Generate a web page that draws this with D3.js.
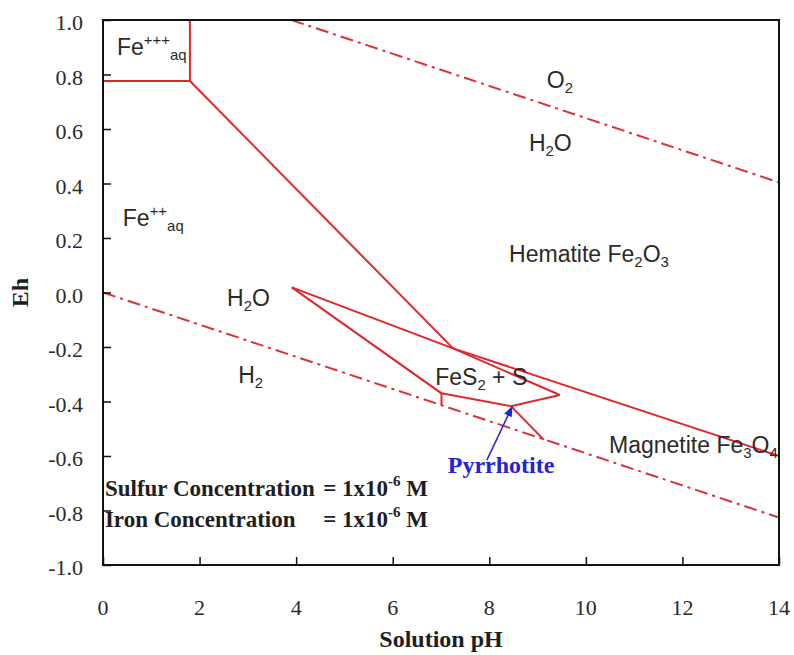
<!DOCTYPE html>
<html>
<head>
<meta charset="utf-8">
<script src="https://cdn.jsdelivr.net/npm/d3@7"></script>
<style>
  body { margin: 0; background: #fff; }
</style>
</head>
<body>
<div id="chart"></div>
<script>
const layout = {
    width: 794,
    height: 655,
    marginLeft: 103,
    marginTop: 20,
    marginRight: 15,
    marginBottom: 90
};

// axis ticks
const phTicks = [0, 2, 4, 6, 8, 10, 12, 14];
const ehTicks = [-1.0, -0.8, -0.6, -0.4, -0.2, 0.0, 0.2, 0.4, 0.6, 0.8, 1.0];

// stability field boundaries [pH, Eh]
const fe3Boundary = [[0, 0.776], [1.8, 0.776], [1.8, 1.0]];
const fe2Hematite = [[1.8, 0.776], [7.25, -0.205]];
const pyriteUpper = [[3.91, 0.019], [7.25, -0.205], [9.46, -0.376]];
const pyriteLower = [[3.91, 0.019], [7.01, -0.370], [7.01, -0.414]];
const pyriteBottom = [[7.01, -0.370], [8.45, -0.417], [9.46, -0.376]];
const pyrrhotiteEdge = [[8.45, -0.417], [9.13, -0.541]];
const magnetiteEdge = [[7.25, -0.205], [14, -0.600]];

// water stability limits
const o2Line = [[3.9, 1.0], [14, 0.404]];
const h2Line = [[0, 0.0], [14, -0.826]];

// field labels, anchored at [pH, Eh]
const fieldLabels = [
    { at: [0.29, 0.872], parts: [["Fe", "n"], ["+++", "sup"], ["aq", "sub"]] },
    { at: [0.41, 0.244], parts: [["Fe", "n"], ["++", "sup"], ["aq", "sub"]] },
    { at: [2.57, -0.050], parts: [["H", "n"], ["2", "sub"], ["O", "n"]] },
    { at: [2.80, -0.332], parts: [["H", "n"], ["2", "sub"]] },
    { at: [9.19, 0.750], parts: [["O", "n"], ["2", "sub"]] },
    { at: [8.82, 0.519], parts: [["H", "n"], ["2", "sub"], ["O", "n"]] },
    { at: [8.41, 0.112], parts: [["Hematite Fe", "n"], ["2", "sub"], ["O", "n"], ["3", "sub"]] },
    { at: [6.88, -0.339], parts: [["FeS", "n"], ["2", "sub"], [" + S", "n"]] },
    { at: [10.48, -0.589], parts: [["Magnetite Fe", "n"], ["3", "sub"], ["O", "n"], ["4", "sub"]] }
];

const noteNames = ["Sulfur Concentration", "Iron Concentration"];
const noteValues = ["1x10", "1x10"];
const noteRows = [-0.747, -0.861];

const arrowFrom = [7.95, -0.615];
const arrowTo = [8.47, -0.420];

const chartW = layout.width - layout.marginLeft - layout.marginRight;
const chartH = layout.height - layout.marginTop - layout.marginBottom;

let x = d3.scaleLinear().domain([0, 14]).range([layout.marginLeft, layout.marginLeft + chartW]);
let y = d3.scaleLinear().domain([-1, 1]).range([layout.marginTop + chartH, layout.marginTop]);

let svg = d3.select("#chart").append("svg")
    .attr("width", layout.width)
    .attr("height", layout.height)
    .attr("viewBox", [0, 0, layout.width, layout.height].join(" "));

svg.append("defs").append("clipPath").attr("id", "plot-clip")
    .append("rect")
    .attr("x", x(0)).attr("y", y(1))
    .attr("width", x(14) - x(0)).attr("height", y(-1) - y(1));

svg.select("defs").append("marker")
    .attr("id", "arrow-head")
    .attr("viewBox", "0 0 10 10")
    .attr("refX", 9).attr("refY", 5)
    .attr("markerWidth", 7).attr("markerHeight", 7)
    .attr("orient", "auto")
    .append("path")
    .attr("d", "M0,1 L10,5 L0,9 Z")
    .attr("fill", "#2323d8");

let line = d3.line().x(d => x(d[0])).y(d => y(d[1]));
let plot = svg.append("g").attr("clip-path", "url(#plot-clip)");

// dash-dot water lines
[o2Line, h2Line].forEach(pts => {
    plot.append("path")
        .datum(pts)
        .attr("d", line)
        .attr("fill", "none")
        .attr("stroke", "#d8323a")
        .attr("stroke-width", 2)
        .attr("stroke-dasharray", "13,5,3,5");
});

// solid boundaries
[fe3Boundary, fe2Hematite, pyriteUpper, pyriteLower, pyriteBottom, pyrrhotiteEdge, magnetiteEdge].forEach(pts => {
    plot.append("path")
        .datum(pts)
        .attr("d", line)
        .attr("fill", "none")
        .attr("stroke", "#e3262c")
        .attr("stroke-width", 2)
        .attr("stroke-linejoin", "miter");
});

function richText(g, px, py, parts, size) {
    let t = g.append("text")
        .attr("x", px).attr("y", py)
        .attr("font-family", "Liberation Sans, Arial, sans-serif")
        .attr("font-size", size)
        .attr("fill", "#2a2a2a");
    let cur = 0;
    parts.forEach(([s, k]) => {
        let off = k === "sub" ? size * 0.22 : k === "sup" ? -size * 0.42 : 0;
        t.append("tspan")
            .attr("dy", off - cur)
            .attr("font-size", k === "n" ? size : size * 0.65)
            .text(s);
        cur = off;
    });
    return t;
}

let labels = svg.append("g");
fieldLabels.forEach(d => richText(labels, x(d.at[0]), y(d.at[1]), d.parts, 23));

// concentration notes
noteNames.forEach((name, i) => {
    let g = svg.append("g")
        .attr("font-family", "Liberation Serif, Times New Roman, serif")
        .attr("font-weight", "bold")
        .attr("font-size", 23)
        .attr("fill", "#1e1e1e");
    g.append("text").attr("x", x(0.04)).attr("y", y(noteRows[i])).text(name);
    let v = g.append("text").attr("x", x(4.56)).attr("y", y(noteRows[i]));
    v.append("tspan").text("= " + noteValues[i]);
    v.append("tspan").attr("dy", -10).attr("font-size", 15).text("-6");
    v.append("tspan").attr("dy", 10).text(" M");
});

// pyrrhotite callout
svg.append("line")
    .attr("x1", x(arrowFrom[0])).attr("y1", y(arrowFrom[1]))
    .attr("x2", x(arrowTo[0])).attr("y2", y(arrowTo[1]))
    .attr("stroke", "#2323d8")
    .attr("stroke-width", 1.5)
    .attr("marker-end", "url(#arrow-head)");

svg.append("text")
    .attr("x", x(7.14)).attr("y", y(-0.662))
    .attr("font-family", "Liberation Serif, Times New Roman, serif")
    .attr("font-weight", "bold")
    .attr("font-size", 24)
    .attr("fill", "#2323d8")
    .text("Pyrrhotite");

// axes with inward ticks
let xAxis = svg.append("g")
    .attr("transform", `translate(0,${y(-1)})`)
    .call(d3.axisTop(x).tickValues(phTicks).tickSize(8).tickFormat(""));
let yAxis = svg.append("g")
    .attr("transform", `translate(${x(0)},0)`)
    .call(d3.axisRight(y).tickValues(ehTicks).tickSize(8).tickFormat(""));
[xAxis, yAxis].forEach(a => {
    a.select(".domain").remove();
    a.selectAll("line").attr("stroke", "#111").attr("stroke-width", 1.5);
});

// frame
svg.append("rect")
    .attr("x", x(0)).attr("y", y(1))
    .attr("width", x(14) - x(0)).attr("height", y(-1) - y(1))
    .attr("fill", "none")
    .attr("stroke", "#111")
    .attr("stroke-width", 2);

// tick labels
svg.append("g").selectAll("text").data(phTicks).join("text")
    .attr("x", d => x(d))
    .attr("y", y(-1) + 50)
    .attr("text-anchor", "middle")
    .attr("font-family", "Liberation Serif, Times New Roman, serif")
    .attr("font-size", 22)
    .attr("fill", "#2a2a2a")
    .text(d => d);

svg.append("g").selectAll("text").data(ehTicks).join("text")
    .attr("x", x(0) - 20)
    .attr("y", d => y(d) + 10)
    .attr("text-anchor", "end")
    .attr("font-family", "Liberation Serif, Times New Roman, serif")
    .attr("font-size", 22)
    .attr("fill", "#2a2a2a")
    .text(d => d.toFixed(1));

// axis titles
svg.append("text")
    .attr("x", x(7))
    .attr("y", 647)
    .attr("text-anchor", "middle")
    .attr("font-family", "Liberation Serif, Times New Roman, serif")
    .attr("font-weight", "bold")
    .attr("font-size", 24)
    .attr("fill", "#1e1e1e")
    .text("Solution pH");

svg.append("text")
    .attr("transform", `translate(28,${y(0)}) rotate(-90)`)
    .attr("text-anchor", "middle")
    .attr("font-family", "Liberation Serif, Times New Roman, serif")
    .attr("font-weight", "bold")
    .attr("font-size", 24)
    .attr("fill", "#1e1e1e")
    .text("Eh");
</script>
</body>
</html>
